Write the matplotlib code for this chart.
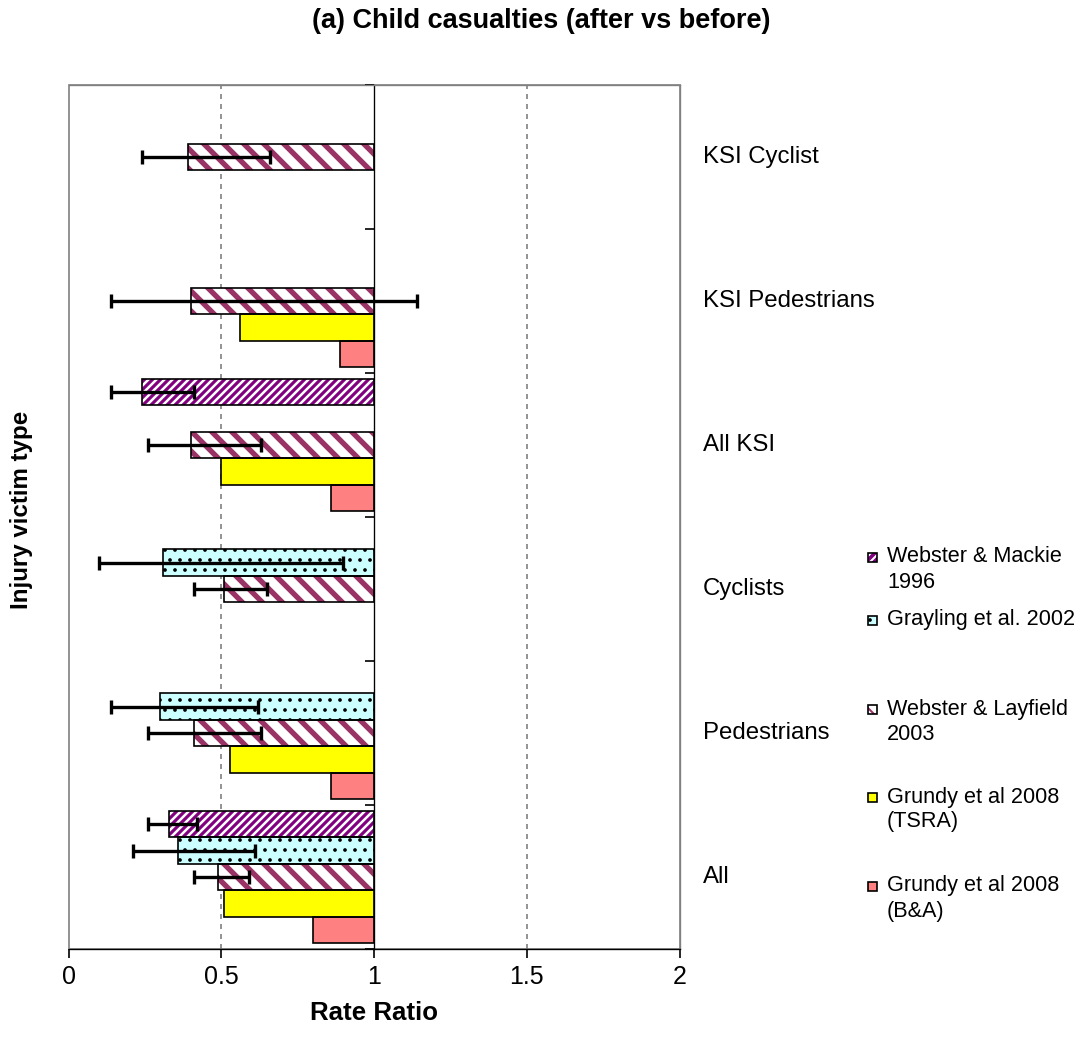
import numpy as np
import matplotlib
matplotlib.use("Agg")
import matplotlib.pyplot as plt
from matplotlib.patches import Rectangle

nan = np.nan

# ---------------- data ----------------
categories = ["All", "Pedestrians", "Cyclists", "All KSI", "KSI Pedestrians", "KSI Cyclist"]

series_names = ["Grundy et al 2008\n(B&A)", "Grundy et al 2008\n(TSRA)",
                "Webster & Layfield\n2003", "Grayling et al. 2002",
                "Webster & Mackie\n1996"]

ba_vals = [0.80, 0.86, nan, 0.86, 0.89, nan]
tsra_vals = [0.51, 0.53, nan, 0.50, 0.56, nan]
layfield_vals = [0.49, 0.41, 0.51, 0.40, 0.40, 0.39]
layfield_lo = [0.41, 0.26, 0.41, 0.26, 0.14, 0.24]
layfield_hi = [0.59, 0.63, 0.65, 0.63, 1.14, 0.66]
grayling_vals = [0.36, 0.30, 0.31, nan, nan, nan]
grayling_lo = [0.21, 0.14, 0.10, nan, nan, nan]
grayling_hi = [0.61, 0.62, 0.90, nan, nan, nan]
mackie_vals = [0.33, nan, nan, 0.24, nan, nan]
mackie_lo = [0.26, nan, nan, 0.14, nan, nan]
mackie_hi = [0.42, nan, nan, 0.41, nan, nan]

x_ticks = [0, 0.5, 1, 1.5, 2]
x_ticklabels = ["0", "0.5", "1", "1.5", "2"]

# ---------------- style ----------------
plt.rcParams['font.family'] = ['Liberation Sans', 'DejaVu Sans']
DPI = 120
fig = plt.figure(figsize=(1083 / DPI, 1048 / DPI), dpi=DPI)
W, H = 1083, 1048
ax = fig.add_axes([68.5 / W, 1 - 949 / H, 611 / W, 864 / H])

PURPLE = "#800080"
PLUM = "#993366"
CYAN = "#CCFFFF"
YELLOW = "#FFFF00"
SALMON = "#FF8080"

styles = [
    dict(face=SALMON, hatch=None, hcolor=None, hlw=1.0),
    dict(face=YELLOW, hatch=None, hcolor=None, hlw=1.0),
    dict(face="white", hatch="\\\\", hcolor=PLUM, hlw=3.2),
    dict(face=CYAN, hatch="..", hcolor="black", hlw=1.0),
    dict(face=PURPLE, hatch="/////", hcolor="white", hlw=1.5),
]
values = [ba_vals, tsra_vals, layfield_vals, grayling_vals, mackie_vals]
errs = [None, None, (layfield_lo, layfield_hi), (grayling_lo, grayling_hi),
        (mackie_lo, mackie_hi)]

n_series = len(values)
bar_h = 0.183
y_base = np.arange(len(categories))


def hatched_barh(axis, y, v, st, h):
    y = np.asarray(y, float)
    v = np.asarray(v, float)
    m = ~np.isnan(v)
    if st["hatch"]:
        with plt.rc_context({'hatch.linewidth': st["hlw"], 'hatch.color': st["hcolor"]}):
            bars = axis.barh(y[m], v[m] - 1, left=1, height=h, color=st["face"],
                             edgecolor=st["hcolor"], linewidth=0, hatch=st["hatch"], zorder=2)
            for b in bars:
                if hasattr(b, "set_hatch_linewidth"):
                    b.set_hatch_linewidth(st["hlw"])
    else:
        axis.barh(y[m], v[m] - 1, left=1, height=h, color=st["face"],
                  edgecolor="none", linewidth=0, zorder=2)
    axis.barh(y[m], v[m] - 1, left=1, height=h, fill=False,
              edgecolor="black", linewidth=1.0, zorder=2.1)


for i, (vals, st, er) in enumerate(zip(values, styles, errs)):
    ys = y_base + (i - (n_series - 1) / 2) * bar_h
    hatched_barh(ax, ys, vals, st, bar_h)
    if er is not None:
        v = np.asarray(vals, float)
        lo = np.asarray(er[0], float)
        hi = np.asarray(er[1], float)
        m = ~np.isnan(v)
        ax.errorbar(v[m], ys[m], xerr=[v[m] - lo[m], hi[m] - v[m]], fmt='none',
                    ecolor='black', elinewidth=2.0, capsize=4.0, capthick=2.0, zorder=3)

# reference lines
for xv in (0.5, 1.5):
    ax.axvline(xv, color="#808080", linestyle=(0, (3, 3)), linewidth=1.0, zorder=1)

ax.set_xlim(0, 2)
ax.set_ylim(-0.5, len(categories) - 0.5)

# spines
ax.spines['left'].set_position(('data', 1))
ax.spines['left'].set_color('black')
ax.spines['left'].set_zorder(2.5)
ax.spines['bottom'].set_color('black')
ax.spines['top'].set_color('#808080')
ax.spines['right'].set_color('#808080')
ax.add_patch(Rectangle((0, 0), 1, 1, transform=ax.transAxes, fill=False,
                       edgecolor='#808080', linewidth=1.0, zorder=0.5, clip_on=False))

ax.set_xticks(x_ticks)
ax.set_xticklabels(x_ticklabels, fontsize=15)
ax.tick_params(axis='x', direction='out', length=5.4, width=1, pad=4.5)
ax.set_yticks(np.arange(-0.5, len(categories), 1.0))
ax.set_yticklabels([])
ax.tick_params(axis='y', direction='out', length=5.4, width=1)

# category labels on the right
for yi, lab in zip(y_base, categories):
    ax.text(1.0385, yi, lab, transform=ax.get_yaxis_transform(), fontsize=14.4,
            ha='left', va='center')

ax.set_xlabel("Rate Ratio", fontsize=15.5, fontweight='bold', labelpad=7)
fig.text(22 / W, 1 - 510 / H, "Injury victim type", rotation=90, fontsize=14.5,
         fontweight='bold', ha='center', va='center')
fig.text(541 / W, 1 - 21 / H, "(a) Child casualties (after vs before)", fontsize=16.3,
         fontweight='bold', ha='center', va='center')

# legend (top to bottom: Mackie, Grayling, Layfield, TSRA, B&A)
leg_order = [4, 3, 2, 1, 0]
leg_y = [557, 620, 709, 797, 886]
for idx, yy in zip(leg_order, leg_y):
    st = styles[idx]
    x0, s = 868, 9
    if st["hatch"]:
        with plt.rc_context({'hatch.linewidth': min(st["hlw"], 1.2)}):
            r = Rectangle((x0 / W, 1 - (yy + s / 2) / H), s / W, s / H, transform=fig.transFigure,
                          facecolor=st["face"], edgecolor=st["hcolor"], linewidth=0,
                          hatch=st["hatch"])
            fig.patches.append(r)
    else:
        fig.patches.append(Rectangle((x0 / W, 1 - (yy + s / 2) / H), s / W, s / H,
                                     transform=fig.transFigure, facecolor=st["face"],
                                     edgecolor='none'))
    fig.patches.append(Rectangle((x0 / W, 1 - (yy + s / 2) / H), s / W, s / H,
                                 transform=fig.transFigure, fill=False,
                                 edgecolor='black', linewidth=1.0))
    for k, line in enumerate(series_names[idx].split("\n")):
        fig.text(887 / W, 1 - (yy + 25 * k) / H, line, fontsize=13, ha='left',
                 va='center')

fig.savefig("out.png", dpi=DPI)
